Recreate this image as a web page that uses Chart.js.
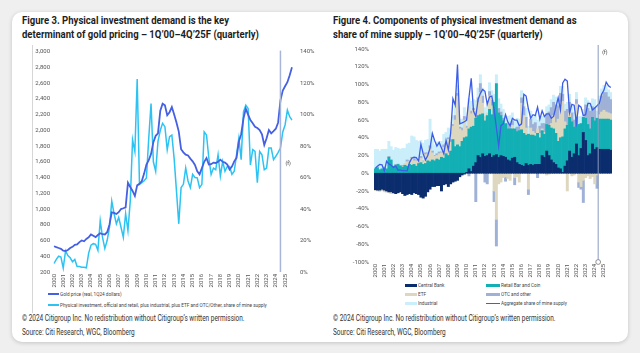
<!DOCTYPE html>
<html>
<head>
<meta charset="utf-8">
<script src="https://cdn.jsdelivr.net/npm/chart.js@4.4.1/dist/chart.umd.min.js"></script>
<style>
  body { margin: 0; width: 640px; height: 353px; background: #efefef; overflow: hidden; font-family: Roboto, "Liberation Sans", sans-serif; }
  .card { position: absolute; left: 12px; top: 12px; width: 616px; height: 330px; background: #fff; border-radius: 10px; box-shadow: 0 1px 4px rgba(0,0,0,.18); }
  .abs { position: absolute; white-space: nowrap; transform-origin: 0 50%; }
  .title { font-weight: bold; font-size: 11.5px; line-height: 14px; color: #1e1e1e; transform: scaleX(0.83); }
  .foot { font-size: 8.3px; line-height: 14px; color: #333; transform: scaleX(0.78); }
  .lg { font-size: 5.5px; line-height: 7px; color: #444; transform: scaleX(0.85); }
  .sw { position: absolute; }
  canvas { position: absolute; }
</style>
</head>
<body>
<div class="card"></div>

<div class="abs title" style="left:22px; top:13px;">Figure 3. Physical investment demand is the key</div>
<div class="abs title" style="left:22px; top:27px;">determinant of gold pricing – 1Q’00–4Q’25F (quarterly)</div>
<div class="abs title" style="left:333px; top:13px;">Figure 4. Components of physical investment demand as</div>
<div class="abs title" style="left:333px; top:27px;">share of mine supply – 1Q’00–4Q’25F (quarterly)</div>

<div class="sw" style="left:32px; top:45px; width:1px; height:268px; background:#d6d6d6;"></div>

<canvas class="chart-left" width="306" height="250" style="left:14px; top:40px;"></canvas>
<canvas class="chart-right" width="290" height="242" style="left:330px; top:40px;"></canvas>

<!-- left legend -->
<div class="sw" style="left:48px; top:293px; width:11px; height:2px; background:#4560e3;"></div>
<div class="abs lg" style="left:60px; top:290.5px;">Gold price (real, 1Q24 dollars)</div>
<div class="sw" style="left:48px; top:304px; width:11px; height:2px; background:#2cc3f3;"></div>
<div class="abs lg" style="left:60px; top:301.5px;">Physical investment, official and retail, plus industrial, plus ETF and OTC/Other, share of mine supply</div>

<!-- right legend -->
<div class="sw" style="left:405px; top:283.5px; width:12px; height:3px; background:#0b2d6e;"></div>
<div class="abs lg" style="left:417.5px; top:281.5px;">Central Bank</div>
<div class="sw" style="left:486px; top:283.5px; width:14px; height:3px; background:#12b0b5;"></div>
<div class="abs lg" style="left:500.5px; top:281.5px;">Retail Bar and Coin</div>
<div class="sw" style="left:405px; top:292.5px; width:12px; height:3px; background:#ddd7bf;"></div>
<div class="abs lg" style="left:417.5px; top:290.5px;">ETF</div>
<div class="sw" style="left:486px; top:292.5px; width:14px; height:3px; background:#9fb1d6;"></div>
<div class="abs lg" style="left:500.5px; top:290.5px;">OTC and other</div>
<div class="sw" style="left:405px; top:301.5px; width:12px; height:3px; background:#caeefa;"></div>
<div class="abs lg" style="left:417.5px; top:299.5px;">Industrial</div>
<div class="sw" style="left:486px; top:302.5px; width:14px; height:1px; background:#3b5de7;"></div>
<div class="abs lg" style="left:500.5px; top:299.5px;">Aggregate share of mine supply</div>

<div class="abs foot" style="left:22px; top:311px;">© 2024 Citigroup Inc. No redistribution without Citigroup’s written permission.</div>
<div class="abs foot" style="left:22px; top:325px;">Source: Citi Research, WGC, Bloomberg</div>
<div class="abs foot" style="left:333px; top:311px;">© 2024 Citigroup Inc. No redistribution without Citigroup’s written permission.</div>
<div class="abs foot" style="left:333px; top:325px;">Source: Citi Research, WGC, Bloomberg</div>

<script>
const years = [2000, 2001, 2002, 2003, 2004, 2005, 2006, 2007, 2008, 2009, 2010, 2011, 2012,
               2013, 2014, 2015, 2016, 2017, 2018, 2019, 2020, 2021, 2022, 2023, 2024, 2025];
const quarterNames = ["1Q", "2Q", "3Q", "4Q"];

// Figure 3: gold price, real 1Q24 dollars (left axis)
const goldPrice = [
    527, 515, 505, 495,   470, 467, 480, 505,   520, 545, 550, 580,   600, 590, 620, 640,
    677, 660, 643, 670,   693, 680, 677, 706,   800, 957, 950, 937,   960, 1000, 1010, 1021,
    1334, 1280, 1230, 1167,   1300, 1320, 1355, 1450,   1564, 1620, 1700, 1850,   1930, 1960, 2250, 2338,
    2317, 2192, 2230, 2296,   2200, 2100, 1983, 1760,   1720, 1690, 1680, 1640,   1606, 1560, 1480, 1440,
    1520, 1600, 1648, 1565,   1570, 1590, 1585, 1600,   1627, 1600, 1590, 1565,   1502, 1540, 1606, 1650,
    1857, 1950, 2150, 2275,   2200, 2129, 2090, 2045,   2030, 2004, 1950, 1815,   1900, 2004, 1962, 1990,
    2020, 2100, 2380, 2506,   2560, 2611, 2700, 2800,
];

// physical investment share of mine supply, % (right axis; also the aggregate line in Figure 4)
const physShare = [
    5.4, 8, 10, 9.5,   2.5, 13.5, 10.5, 9,   6.5, 8, 3.5, 3.5,   3, 3, 2.7, 12,
    17, 18, 17.6, 13.8,   32.6, 22, 15, 20,   28.4, 45, 37, 30.6,   34.7, 28.4, 22, 37,
    26.4, 45, 84, 76.6,   122.6, 55.7, 56.7, 58,   59.8, 85, 107, 70,   64, 83, 90, 94.4,
    92.3, 77.7, 86, 87,   72, 51.5, 30.6, 53.6,   55.7, 66, 57.8, 53.6,   62, 60, 59.8, 53.6,
    55.7, 89, 87, 72.4,   62, 66, 65, 74.5,   61, 70.3, 64, 67,   67, 62, 64, 74.5,
    85, 71.4, 101.7, 106,   103.8, 68, 77.7, 76.6,   56.7, 76.6, 74.5, 65,   66, 78.7, 78.7, 71.4,
    73.5, 76, 78.7, 89,   93.4, 102.8, 98.6, 96.5,
];

// Figure 4 components, % of mine supply
const centralBank = [
    -18.5, -19, -19, -18,   -19, -20, -21, -21,   -22, -23, -22, -21,   -23, -25, -24, -23,
    -24, -22, -23, -24,   -27, -28, -26, -21,   -18, -15, -15, -14,   -14, -20, -13, -12,
    -15, -12, -10, -9,   -8, -4, -2, -1,   1, 5, 2, 8,   12, 20, 18, 22,
    19, 20, 22, 18,   20, 21, 18, 20,   19, 18, 15, 14,   17, 18, 12, 10,
    9, 8, 11, 9,   10, 9, 10, 10,   10, 20, 18, 25,   20, 15, 12, 10,
    6, 5, 1, 8,   14, 25, 18, 22,   33, 20, 28, 46,   37, 20, 22, 33,
    27, 29, 27, 27,   27, 27, 27, 26,
];
const retailBarCoin = [
    5, 6, 4, 5,   6, 5, 18, 15,   8, 9, 10, 8,   7, 9, 8, 10,
    9, 10, 8, 11,   12, 10, 11, 14,   13, 15, 14, 16,   15, 18, 17, 22,
    20, 25, 38, 30,   32, 30, 36, 40,   40, 45, 50, 45,   50, 45, 48, 45,
    40, 45, 50, 48,   60, 80, 50, 45,   40, 38, 35, 36,   33, 32, 35, 38,
    40, 37, 32, 35,   33, 34, 32, 35,   30, 28, 26, 30,   34, 36, 38, 35,
    30, 35, 40, 42,   40, 38, 40, 30,   30, 35, 28, 17,   25, 35, 28, 30,
    32, 33, 34, 34,   34, 34, 34, 34,
];
const etf = [
    -1, -1, -1, -1,   -2, -1, -1, -2,   -1, 0, 1, 0,   1, 2, 5, 3,
    8, 4, 6, 5,   5, 3, 10, 8,   15, 8, 5, 4,   7, 5, 12, 10,
    18, 10, 15, 30,   55, 20, 12, 20,   10, 25, 15, 18,   8, 15, 25, 12,
    5, 3, 15, 10,   -20, -52, -12, -10,   -5, -4, -6, -8,   4, -5, -4, -10,
    30, 20, 8, -18,   8, 4, 3, 5,   5, 2, 2, -2,   -1, 5, 15, 12,
    25, 40, 40, 8,   -20, 5, -3, -2,   15, -10, -15, -8,   -5, -3, -6, -4,
    -12, -2, 5, 8,   10, 8, 7, 7,
];
const otcOther = [
    0, 1, 0, 0,   1, 0, 1, 0,   0, 1, 0, 1,   1, 0, 2, 1,
    1, 2, 1, 0,   2, 1, 2, 1,   3, 2, 1, 2,   2, 1, 3, 2,
    2, 3, 2, 5,   3, 2, 3, 4,   2, -3, 3, 2,   -32, 5, 10, 8,
    -10, -12, 5, 6,   -12, -30, 5, 4,   3, -5, 6, 5,   5, -8, 5, 4,
    6, 10, 12, -6,   10, 8, 12, -5,   8, 6, 10, 12,   15, 18, 15, 20,
    15, 10, 8, 12,   18, 12, 10, 8,   5, -6, -3, -25,   15, 18, 20, 12,
    15, -15, 12, 18,   20, 22, 18, 16,
];
const industrial = [
    22, 20, 21, 22,   20, 22, 17, 15,   18, 19, 17, 18,   19, 17, 18, 20,
    24, 25, 22, 20,   18, 20, 14, 15,   30, 14, 12, 13,   12, 12, 12, 12,
    11, 12, 10, 10,   9, 9, 10, 10,   10, 9, 11, 10,   12, 11, 10, 9,
    10, 9, 10, 11,   9, 10, 11, 9,   10, 9, 8, 10,   9, 8, 10, 9,
    8, 9, 10, 9,   9, 8, 9, 10,   9, 8, 9, 8,   8, 9, 8, 9,
    7, 8, 9, 8,   8, 9, 8, 9,   8, 9, 8, 9,   8, 9, 8, 9,
    9, 8, 9, 8,   8, 8, 8, 8,
];

const quarters = years.flatMap(y => quarterNames.map(q => q + "'" + String(y).slice(2)));

Chart.defaults.font.family = "Roboto, 'Liberation Sans', sans-serif";
Chart.defaults.font.size = 6;
Chart.defaults.color = "#555";

// vertical forecast marker with "(f)"
const forecastLine = {
    id: "forecastLine",
    afterDatasetsDraw(chart, args, opts) {
        const { ctx, chartArea, scales: { x } } = chart;
        const i = Math.floor(opts.at), f = opts.at - i;
        const px = x.getPixelForValue(i) * (1 - f) + x.getPixelForValue(i + 1) * f;
        ctx.save();
        ctx.strokeStyle = opts.color;
        ctx.lineWidth = opts.width;
        ctx.beginPath();
        ctx.moveTo(px, chartArea.top - opts.above);
        ctx.lineTo(px, chartArea.bottom);
        ctx.stroke();
        if (opts.circle) {
            ctx.fillStyle = "#fff";
            ctx.strokeStyle = "#777";
            ctx.lineWidth = 0.8;
            ctx.beginPath();
            ctx.arc(px, chartArea.bottom, 2.4, 0, Math.PI * 2);
            ctx.fill();
            ctx.stroke();
        }
        ctx.fillStyle = "#333";
        ctx.font = "5px Roboto";
        ctx.textBaseline = "middle";
        ctx.fillText("(f)", px + opts.dx, chartArea.top + opts.dy);
        ctx.restore();
    },
};

const yearTick = (v, i) => (i % 4 === 0 ? years[i / 4] : "");
const noGrid = { display: false, drawTicks: false };

new Chart(document.querySelector(".chart-left"), {
    type: "line",
    data: {
        labels: quarters,
        datasets: [
            { label: "Gold price (real, 1Q24 dollars)", data: goldPrice, yAxisID: "y",
              borderColor: "#4560e3", borderWidth: 1.8, pointRadius: 0 },
            { label: "Physical investment, official and retail, plus industrial, plus ETF and OTC/Other, share of mine supply",
              data: physShare, yAxisID: "y1", borderColor: "#2cc3f3", borderWidth: 1.5, pointRadius: 0 },
        ],
    },
    options: {
        responsive: false,
        animation: false,
        layout: { padding: { top: 9 } },
        plugins: {
            legend: { display: false },
            tooltip: { enabled: false },
            forecastLine: { at: 98, color: "#a7b6d8", width: 1.5, above: 1, dx: 5, dy: 112 },
        },
        scales: {
            x: {
                grid: noGrid, border: { display: false },
                ticks: { autoSkip: false, minRotation: 90, maxRotation: 90, padding: 2, callback: yearTick },
                afterFit: s => { s.height = 18; },
            },
            y: {
                position: "left", min: 200, max: 3000,
                grid: noGrid, border: { display: false },
                ticks: { stepSize: 200, padding: 4, callback: v => v.toLocaleString("en-US") },
                afterFit: s => { s.width = 40; },
            },
            y1: {
                position: "right", min: 0, max: 140,
                grid: noGrid, border: { display: false },
                ticks: { stepSize: 20, padding: 8, callback: v => v + "%" },
                afterFit: s => { s.width = 28; },
            },
        },
    },
    plugins: [forecastLine],
});

const bar = (label, data, color) => ({
    type: "bar", label, data, backgroundColor: color, stack: "parts",
    barPercentage: 1, categoryPercentage: 1, borderWidth: 0,
});

new Chart(document.querySelector(".chart-right"), {
    type: "bar",
    data: {
        labels: quarters,
        datasets: [
            { type: "line", label: "Aggregate share of mine supply", data: physShare, stack: "agg", order: -1,
              borderColor: "#3b5de7", borderWidth: 1.3, pointRadius: 0 },
            bar("Central Bank", centralBank, "#0b2d6e"),
            bar("Retail Bar and Coin", retailBarCoin, "#12b0b5"),
            bar("ETF", etf, "#ddd7bf"),
            bar("OTC and other", otcOther, "#9fb1d6"),
            bar("Industrial", industrial, "#caeefa"),
        ],
    },
    options: {
        responsive: false,
        animation: false,
        layout: { padding: { top: 9, right: 8 } },
        plugins: {
            legend: { display: false },
            tooltip: { enabled: false },
            forecastLine: { at: 97.5, color: "#8a9abf", width: 1, above: 4, circle: true, dx: 4, dy: 4 },
        },
        scales: {
            x: {
                stacked: true,
                grid: noGrid, border: { display: false },
                ticks: { autoSkip: false, minRotation: 90, maxRotation: 90, padding: 2, callback: yearTick },
                afterFit: s => { s.height = 20; },
            },
            y: {
                stacked: true, min: -100, max: 140,
                grid: noGrid, border: { display: false },
                ticks: { stepSize: 20, padding: 5, callback: v => v + "%" },
                afterFit: s => { s.width = 44; },
            },
        },
    },
    plugins: [forecastLine],
});
</script>
</body>
</html>
